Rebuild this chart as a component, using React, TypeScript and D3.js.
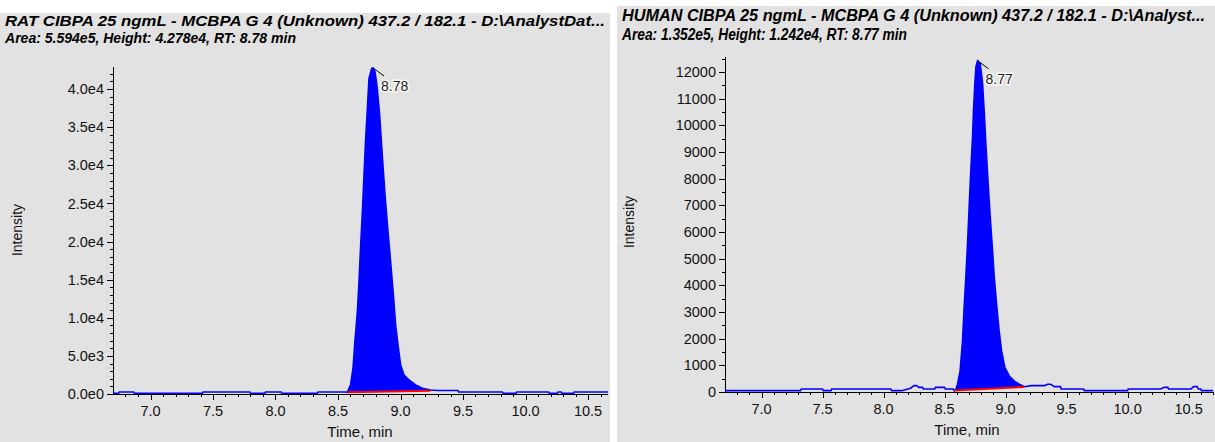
import React from "react";
import * as d3 from "d3";

// ---------- DATA ----------
const RAT_TITLE = "RAT CIBPA 25 ngmL - MCBPA G 4 (Unknown) 437.2 / 182.1 - D:\\AnalystDat...";
const RAT_SUBTITLE = "Area: 5.594e5, Height: 4.278e4, RT: 8.78 min";
const HUMAN_TITLE = "HUMAN CIBPA 25 ngmL - MCBPA G 4 (Unknown) 437.2 / 182.1 - D:\\Analyst...";
const HUMAN_SUBTITLE = "Area: 1.352e5, Height: 1.242e4, RT: 8.77 min";

const RAT_TIME = [
  6.70, 6.745, 6.75, 6.865, 6.87, 7.415, 7.42, 7.795, 7.80, 7.915, 7.92, 8.045, 8.05, 8.335, 8.34, 8.55,
  8.575, 8.60, 8.62, 8.635, 8.655, 8.668, 8.68, 8.695, 8.708, 8.72, 8.735, 8.748, 8.77, 8.78,
  8.796, 8.814, 8.833, 8.854, 8.876, 8.90, 8.921, 8.943, 8.961, 8.98, 9.001, 9.028, 9.068, 9.121,
  9.175, 9.24, 9.30, 9.46, 9.465, 9.815, 9.82, 9.925, 9.93, 10.185, 10.19, 10.255, 10.26, 10.285,
  10.29, 10.385, 10.39, 10.66,
];
const RAT_INTENSITY = [
  100, 100, 270, 270, 100, 100, 270, 270, 100, 100, 270, 270, 100, 100, 270, 270,
  250, 1180, 3370, 6860, 10800, 14730, 19100, 23910, 28720, 33090, 37470, 41400, 42710, 42780,
  42270, 40090, 36590, 31340, 26100, 21290, 17350, 12980, 9050, 6430, 3800, 2490, 1840, 1180,
  750, 520, 450, 450, 270, 270, 100, 100, 270, 270, 100, 100, 270, 270,
  100, 100, 270, 270,
];
const RAT_BASELINE_TIME = [8.575, 9.24];
const RAT_BASELINE_INTENSITY = [230, 420];
const RAT_RT = 8.78;
const RAT_RT_LABEL = "8.78";
const RAT_Y_TICKS = [0, 5000, 10000, 15000, 20000, 25000, 30000, 35000, 40000];
const RAT_Y_LABELS = ["0.0e0", "5.0e3", "1.0e4", "1.5e4", "2.0e4", "2.5e4", "3.0e4", "3.5e4", "4.0e4"];

const HUMAN_TIME = [
  6.70, 7.32, 7.325, 7.50, 7.505, 7.57, 7.575, 8.06, 8.065, 8.15, 8.22, 8.25, 8.27, 8.29, 8.32, 8.325,
  8.42, 8.425, 8.50, 8.505, 8.57, 8.58, 8.592, 8.606, 8.627, 8.647, 8.66, 8.674, 8.688, 8.701,
  8.715, 8.729, 8.737, 8.748, 8.757, 8.77, 8.791, 8.811, 8.824, 8.838, 8.857, 8.874, 8.893,
  8.907, 8.926, 8.947, 8.967, 8.994, 9.03, 9.071, 9.112, 9.153, 9.21, 9.32, 9.345, 9.37, 9.40,
  9.45, 9.455, 9.64, 9.645, 10.0, 10.005, 10.27, 10.30, 10.33, 10.335, 10.52, 10.54, 10.57,
  10.58, 10.60, 10.605, 10.70,
];
const HUMAN_INTENSITY = [
  50, 50, 110, 110, 50, 50, 110, 110, 50, 50, 140, 240, 240, 175, 175, 110,
  110, 175, 175, 110, 110, 40, 100, 290, 790, 1920, 3170, 4300, 5560, 6930,
  8310, 9570, 10570, 11580, 12200, 12420, 12330, 11580, 10570, 9320, 7810, 6560, 5300,
  4300, 3300, 2290, 1540, 910, 600, 410, 290, 200, 240, 240, 290, 290, 200,
  200, 110, 110, 50, 50, 110, 110, 175, 175, 110, 110, 200, 200,
  110, 110, 50, 50,
];
const HUMAN_BASELINE_TIME = [8.58, 9.15];
const HUMAN_BASELINE_INTENSITY = [60, 190];
const HUMAN_RT = 8.77;
const HUMAN_RT_LABEL = "8.77";
const HUMAN_Y_TICKS = [0, 1000, 2000, 3000, 4000, 5000, 6000, 7000, 8000, 9000, 10000, 11000, 12000];
const HUMAN_Y_LABELS = ["0", "1000", "2000", "3000", "4000", "5000", "6000", "7000", "8000", "9000", "10000", "11000", "12000"];

const X_TICKS = [7.0, 7.5, 8.0, 8.5, 9.0, 9.5, 10.0, 10.5];
const X_LABELS = ["7.0", "7.5", "8.0", "8.5", "9.0", "9.5", "10.0", "10.5"];

const AXIS_FONT = "'Liberation Sans', Arial, sans-serif";
const TITLE_FONT = "'Liberation Sans Narrow', 'Liberation Sans', Arial, sans-serif";
const BLUE = "#0000ff";

type PanelProps = {
  px: number; pw: number; ptop: number;
  title: string; subtitle: string; titleSize: number;
  titleX: number; titleY1: number; titleY2: number; titleW1: number; titleW2: number;
  time: number[]; intensity: number[];
  baseT: number[]; baseI: number[];
  rt: number; rtLabel: string;
  yTicks: number[]; yLabels: string[]; yMinorStep: number;
  xDomain: [number, number]; xRange: [number, number];
  yDomain: [number, number]; yRange: [number, number];
  intensityX: number; intensityY: number; timeX: number;
};

function Panel(p: PanelProps) {
  const x = d3.scaleLinear().domain(p.xDomain).range(p.xRange);
  const y = d3.scaleLinear().domain(p.yDomain).range(p.yRange);
  const pts = p.time.map((t, i) => [t, p.intensity[i]] as [number, number]);
  const line = d3.line<[number, number]>().x((d) => x(d[0])).y((d) => y(d[1]));
  const baseAt = (t: number) =>
    p.baseI[0] + ((t - p.baseT[0]) / (p.baseT[1] - p.baseT[0])) * (p.baseI[1] - p.baseI[0]);
  const interp = (t: number) => {
    for (let i = 0; i < pts.length - 1; i++) {
      if (t >= pts[i][0] && t <= pts[i + 1][0]) {
        const f = (t - pts[i][0]) / (pts[i + 1][0] - pts[i][0]);
        return pts[i][1] + f * (pts[i + 1][1] - pts[i][1]);
      }
    }
    return pts[pts.length - 1][1];
  };
  const fillPts: [number, number][] = [
    [p.baseT[0], interp(p.baseT[0])],
    ...pts.filter((d) => d[0] > p.baseT[0] && d[0] < p.baseT[1]),
    [p.baseT[1], interp(p.baseT[1])],
  ];
  const area = d3
    .area<[number, number]>()
    .x((d) => x(d[0]))
    .y0((d) => y(baseAt(d[0])))
    .y1((d) => y(d[1]));

  const ax = p.xRange[0];
  const ay = p.yRange[0];
  const yMinor = d3.range(0, p.yDomain[1], p.yMinorStep);
  const xMinor = d3.range(7.0, p.xDomain[1] + 1e-9, 0.1).concat([6.8, 6.9]).filter((t) => t >= p.xDomain[0] && t <= p.xDomain[1]);
  const apexIdx = d3.maxIndex(p.intensity);
  const apexX = x(p.time[apexIdx]);
  const apexY = y(p.intensity[apexIdx]);

  return (
    <g>
      <rect x={p.px} y={p.ptop} width={p.pw} height={442 - p.ptop} fill="#e2e2e2" />
      <text x={p.titleX} y={p.titleY1} fontFamily={TITLE_FONT} fontWeight="bold" fontStyle="italic"
        fontSize={p.titleSize} textLength={p.titleW1} lengthAdjust="spacingAndGlyphs" fill="#000">{p.title}</text>
      <text x={p.titleX} y={p.titleY2} fontFamily={TITLE_FONT} fontWeight="bold" fontStyle="italic"
        fontSize={p.titleSize} textLength={p.titleW2} lengthAdjust="spacingAndGlyphs" fill="#000">{p.subtitle}</text>

      {/* y axis */}
      <line x1={ax + 0.5} x2={ax + 0.5} y1={p.yRange[1]} y2={ay} stroke="#000" />
      {yMinor.map((v) => (
        <line key={"ym" + v} x1={ax - 3} x2={ax} y1={Math.round(y(v)) + 0.5} y2={Math.round(y(v)) + 0.5} stroke="#000" />
      ))}
      {p.yTicks.map((v, i) => (
        <g key={"yt" + v}>
          <line x1={ax - 6} x2={ax} y1={Math.round(y(v)) + 0.5} y2={Math.round(y(v)) + 0.5} stroke="#000" />
          <text x={ax - 9} y={y(v)} dy="0.35em" textAnchor="end" fontFamily={AXIS_FONT} fontSize={14.5} fill="#111">
            {p.yLabels[i]}
          </text>
        </g>
      ))}
      <text transform={`translate(${p.intensityX},${p.intensityY}) rotate(-90)`} textAnchor="middle"
        fontFamily={AXIS_FONT} fontSize={14} fill="#111">Intensity</text>

      {/* x axis */}
      <line x1={ax} x2={p.xRange[1]} y1={ay + 0.5} y2={ay + 0.5} stroke="#000" />
      {xMinor.map((t) => (
        <line key={"xm" + t} x1={Math.round(x(t)) + 0.5} x2={Math.round(x(t)) + 0.5} y1={ay} y2={ay + 3} stroke="#000" />
      ))}
      {X_TICKS.map((t, i) => (
        <g key={"xt" + t}>
          <line x1={Math.round(x(t)) + 0.5} x2={Math.round(x(t)) + 0.5} y1={ay} y2={ay + 6} stroke="#000" />
          <text x={x(t)} y={ay + 22} textAnchor="middle" fontFamily={AXIS_FONT} fontSize={14.5} fill="#111">
            {X_LABELS[i]}
          </text>
        </g>
      ))}
      <text x={p.timeX} y={ay + 43} textAnchor="middle" fontFamily={AXIS_FONT} fontSize={15} fill="#111">Time, min</text>

      {/* data */}
      <path d={area(fillPts) || ""} fill={BLUE} />
      <path d={line(pts) || ""} fill="none" stroke={BLUE} strokeWidth={1.6} />
      <line x1={x(p.baseT[0])} x2={x(p.baseT[1])} y1={y(p.baseI[0])} y2={y(p.baseI[1])} stroke="#ff0000" strokeWidth={2} />

      {/* RT annotation */}
      <line x1={apexX} y1={apexY} x2={apexX + 11} y2={apexY + 8} stroke="#000" strokeWidth={1} />
      <text x={apexX + 8} y={apexY + 23} fontFamily={AXIS_FONT} fontSize={14} fill="#222"
        stroke="#ffffff" strokeOpacity={0.8} strokeWidth={3} paintOrder="stroke">{p.rtLabel}</text>
    </g>
  );
}

export default function App() {
  return (
    <svg width={1215} height={442} style={{ position: "absolute", left: 0, top: 0, background: "#fff" }}>
      <Panel
        px={0} pw={610} ptop={13}
        title={RAT_TITLE} subtitle={RAT_SUBTITLE} titleSize={15}
        titleX={5} titleY1={26} titleY2={43} titleW1={600} titleW2={291}
        time={RAT_TIME} intensity={RAT_INTENSITY}
        baseT={RAT_BASELINE_TIME} baseI={RAT_BASELINE_INTENSITY}
        rt={RAT_RT} rtLabel={RAT_RT_LABEL}
        yTicks={RAT_Y_TICKS} yLabels={RAT_Y_LABELS} yMinorStep={1000}
        xDomain={[6.7, 10.66]} xRange={[113, 608]}
        yDomain={[0, 42900]} yRange={[394, 67]}
        intensityX={22} intensityY={230} timeX={360}
      />
      <Panel
        px={617} pw={598} ptop={6}
        title={HUMAN_TITLE} subtitle={HUMAN_SUBTITLE} titleSize={16.5}
        titleX={622} titleY1={21} titleY2={40} titleW1={583} titleW2={285}
        time={HUMAN_TIME} intensity={HUMAN_INTENSITY}
        baseT={HUMAN_BASELINE_TIME} baseI={HUMAN_BASELINE_INTENSITY}
        rt={HUMAN_RT} rtLabel={HUMAN_RT_LABEL}
        yTicks={HUMAN_Y_TICKS} yLabels={HUMAN_Y_LABELS} yMinorStep={500}
        xDomain={[6.7, 10.7]} xRange={[725, 1213]}
        yDomain={[0, 12560]} yRange={[392, 57]}
        intensityX={634} intensityY={222} timeX={967}
      />
    </svg>
  );
}
